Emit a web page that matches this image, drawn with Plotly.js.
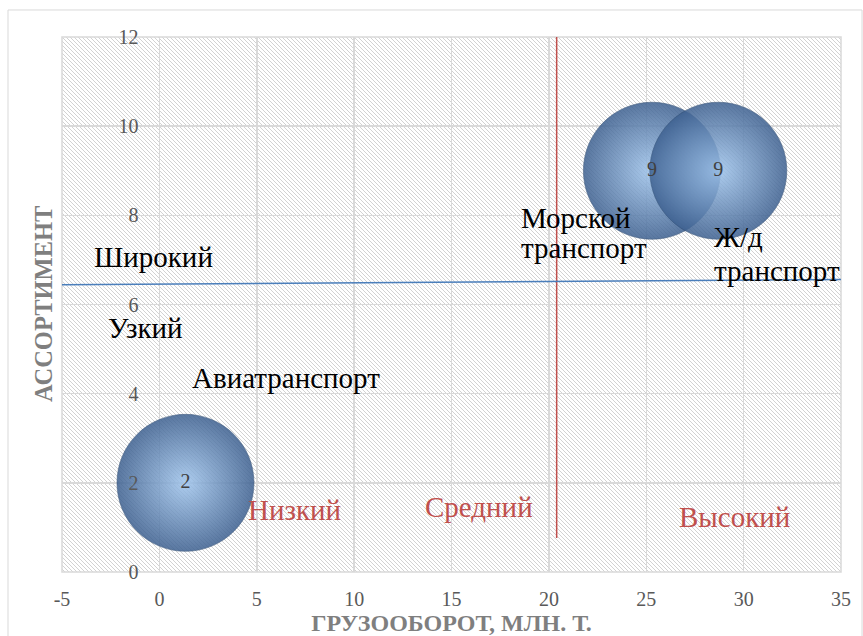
<!DOCTYPE html>
<html>
<head>
<meta charset="utf-8">
<script src="https://cdn.plot.ly/plotly-3.0.1.min.js"></script>
<style>html,body{margin:0;padding:0;background:#fff;}#chart{width:863px;height:636px;}</style>
</head>
<body>
<div id="chart"></div>
<script>
// Bubble data (x = грузооборот, y = ассортимент)
const bubbleX = [1.34, 25.29, 28.70];
const bubbleY = [2, 9, 9];
const bubbleLabels = ['2', '9', '9'];

// divider lines
const redLineX = [20.4, 20.4];
const redLineY = [0.76, 12.1];
const blueLineX = [-5, 35.2];
const blueLineY = [6.445, 6.56];

// centred text annotations
const blackTexts = ['Широкий', 'Узкий', 'Авиатранспорт'];
const blackTextX = [-0.31, -0.72, 6.5];
const blackTextY = [7.07, 5.48, 4.35];
// left-aligned two-line labels (one entry per line)
const leftTexts = ['Морской', 'транспорт', 'Ж/д', 'транспорт'];
const leftTextX = [18.45, 18.45, 28.36, 28.36];
const leftTextY = [7.95, 7.26, 7.51, 6.76];
// red level labels
const redTexts = ['Низкий', 'Средний', 'Высокий'];
const redTextX = [6.96, 16.43, 29.52];
const redTextY = [1.39, 1.45, 1.23];

const xTickVals = [-5, 0, 5, 10, 15, 20, 25, 30, 35];
const yTickVals = [0, 2, 4, 6, 8, 10, 12];

const serif = '"Liberation Serif", "DejaVu Serif", serif';
const labelSize = 29;

const hatchSvg = '<svg xmlns="http://www.w3.org/2000/svg" width="779" height="535" preserveAspectRatio="none">' +
  '<defs><pattern id="h" patternUnits="userSpaceOnUse" width="4" height="4">' +
  '<rect width="4" height="4" fill="#ffffff"/>' +
  '<path d="M-1,-1 L5,5 M-1,3 L1,5 M3,-1 L5,1" stroke="#d2d2d2" stroke-width="1"/>' +
  '</pattern></defs><rect width="779" height="535" fill="url(#h)"/></svg>';

const traces = [
  {
    type: 'scatter', mode: 'markers+text',
    x: bubbleX, y: bubbleY, text: bubbleLabels,
    textposition: 'middle center',
    textfont: {family: serif, size: 20, color: '#404040'},
    marker: {
      size: 137, sizemode: 'diameter',
      color: '#3d6090', opacity: 0.85,
      gradient: {type: 'radial', color: '#9fc4ec'},
      line: {color: '#2c4a70', width: 0.6}
    },
    cliponaxis: false, hoverinfo: 'x+y', showlegend: false
  }
];

const annotations = [];
blackTexts.forEach((t, i) => annotations.push({
  x: blackTextX[i], y: blackTextY[i], xref: 'x', yref: 'y', text: t, showarrow: false,
  font: {family: serif, size: labelSize, color: '#000000'}
}));
leftTexts.forEach((t, i) => annotations.push({
  x: leftTextX[i], y: leftTextY[i], xref: 'x', yref: 'y', text: t, showarrow: false,
  xanchor: 'left', align: 'left',
  font: {family: serif, size: labelSize, color: '#000000'}
}));
redTexts.forEach((t, i) => annotations.push({
  x: redTextX[i], y: redTextY[i], xref: 'x', yref: 'y', text: t, showarrow: false,
  font: {family: serif, size: labelSize, color: '#C0504D'}
}));
annotations.push({
  xref: 'paper', yref: 'paper', x: -0.0436, y: 0.5, textangle: -90, showarrow: false,
  text: '<b>АССОРТИМЕНТ</b>', font: {family: serif, size: 24.5, color: '#7f7f7f'}
});

const layout = {
  width: 863, height: 636,
  margin: {l: 62, r: 22, t: 37, b: 64},
  paper_bgcolor: '#ffffff', plot_bgcolor: '#ffffff',
  showlegend: false,
  font: {family: serif},
  xaxis: {
    range: [-5, 35], tickvals: xTickVals, ticktext: xTickVals.map(String),
    showgrid: true, gridcolor: '#d9d9d9', gridwidth: 1.5,
    zeroline: false, showline: false, ticks: '',
    ticklabelstandoff: 13,
    tickfont: {family: serif, size: 20, color: '#595959'},
    title: {text: '<b>ГРУЗООБОРОТ, МЛН. Т.</b>', font: {family: serif, size: 24, color: '#7f7f7f'}, standoff: 4}
  },
  yaxis: {
    range: [0, 12], tickvals: yTickVals, ticktext: yTickVals.map(String),
    anchor: 'free', position: 0.125,
    showgrid: true, gridcolor: '#d9d9d9', gridwidth: 1.5,
    zeroline: false, showline: false, ticks: '',
    ticklabelstandoff: 21,
    tickfont: {family: serif, size: 20, color: '#595959'}
  },
  images: [{
    source: 'data:image/svg+xml;charset=utf-8,' + encodeURIComponent(hatchSvg),
    xref: 'paper', yref: 'paper', x: 0, y: 1, sizex: 1, sizey: 1,
    xanchor: 'left', yanchor: 'top', sizing: 'stretch', layer: 'below'
  }],
  shapes: [
    {type: 'rect', xref: 'paper', yref: 'paper', x0: 0, x1: 1, y0: 0, y1: 1,
     line: {color: '#d9d9d9', width: 1.5}, layer: 'below'},
    {type: 'rect', xref: 'paper', yref: 'paper', x0: -0.0693, x1: 1.027, y0: -0.2, y1: 1.0505,
     line: {color: '#d9d9d9', width: 1}, layer: 'below'},
    {type: 'line', xref: 'x', yref: 'y', x0: redLineX[0], x1: redLineX[1], y0: redLineY[0], y1: redLineY[1],
     line: {color: '#C0504D', width: 1.5}},
    {type: 'line', xref: 'x', yref: 'y', x0: blueLineX[0], x1: blueLineX[1], y0: blueLineY[0], y1: blueLineY[1],
     line: {color: '#4a7ebb', width: 1.5}}
  ],
  annotations: annotations
};

Plotly.newPlot('chart', traces, layout, {displayModeBar: false, staticPlot: true});
</script>
</body>
</html>
